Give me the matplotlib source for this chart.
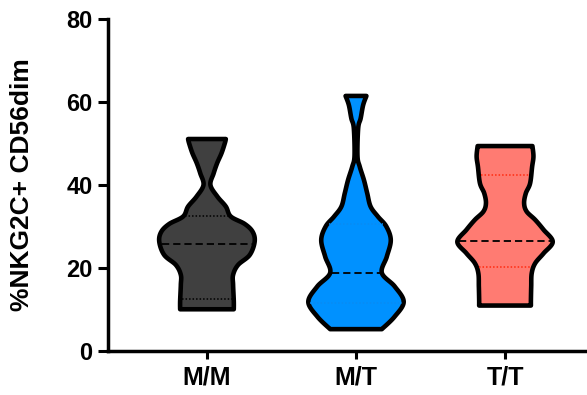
import numpy as np
import matplotlib.pyplot as plt
from matplotlib.patches import Polygon

plt.rcParams['font.family'] = ['Liberation Sans', 'DejaVu Sans']
plt.rcParams['font.weight'] = 'bold'

groups = ['M/M', 'M/T', 'T/T']
fills = ['#404040', '#0091ff', '#ff7b72']
quart_cols = ['#000000', '#0a8bf2', '#ff2a10']

# violin outlines: value levels (bottom -> top) and relative widths
mm_y = [10, 12, 15.9, 18.3, 20.7, 23.1, 26.3, 28.7, 30.6, 32.4, 34.8, 37.2, 40, 42.8, 45.3, 47.7, 50.1, 51.1]
mm_w = [27, 27, 26.3, 26.3, 31.3, 43, 48, 46, 38, 24, 19, 10.5, 3.5, 6.7, 10.3, 14.7, 18, 19]

mt_y = [5.2, 8.2, 11.8, 15.5, 18.8, 22.7, 26.7, 30, 32.4, 34.8, 38, 41.2, 44.4, 47, 53.7, 56.1, 59.3, 61.5]
mt_w = [26, 38.8, 48, 39, 26, 31, 35, 30.5, 22, 14.7, 11.3, 8, 3.8, 1.5, 2.2, 4.7, 7.2, 10.5]

tt_y = [10.9, 12.2, 15.5, 18.7, 21.1, 23.5, 26.3, 29.2, 31.6, 33.6, 35.6, 38, 40.4, 44.4, 46.9, 49.4]
tt_w = [25.5, 25.5, 25.8, 26.3, 29.7, 38, 47, 38, 29.7, 21.3, 18.8, 20.5, 24.7, 26.7, 28, 27]

medians = [25.7, 18.8, 26.5]
q1 = [12.5, 11.5, 20.1]
q3 = [32.4, 30.5, 42.4]

profiles = [(mm_y, mm_w), (mt_y, mt_w), (tt_y, tt_w)]


def smooth(y, w, n=24):
    # catmull-rom through the read points, done in roughly pixel space
    pts = np.column_stack([w, np.asarray(y) * 4.14])
    p = np.vstack([pts[0], pts, pts[-1]])
    t = np.linspace(0, 1, n, endpoint=False)[:, None]
    out = []
    for i in range(1, len(p) - 2):
        p0, p1, p2, p3 = p[i - 1], p[i], p[i + 1], p[i + 2]
        seg = 0.5 * (2 * p1 + (-p0 + p2) * t
                     + (2 * p0 - 5 * p1 + 4 * p2 - p3) * t ** 2
                     + (-p0 + 3 * p1 - 3 * p2 + p3) * t ** 3)
        out.append(seg)
    out.append(pts[-1:])
    c = np.vstack(out)
    return c[:, 1] / 4.14, c[:, 0]


fig = plt.figure(figsize=(5.87, 3.95), dpi=100)
ax = fig.add_axes([108 / 587, 44.3 / 395, 479 / 587, 331.4 / 395])

max_half = 0.32
for i, (yy, ww) in enumerate(profiles):
    ys, ws = smooth(yy, ww)
    half = ws / max(ww) * max_half
    xs_r = i + half
    xs_l = i - half
    verts = np.vstack([np.column_stack([xs_r, ys]),
                       np.column_stack([xs_l[::-1], ys[::-1]])])
    ax.add_patch(Polygon(verts, closed=True, facecolor=fills[i], edgecolor='black',
                         linewidth=3.3, joinstyle='round', zorder=2))
    order = np.argsort(ys)
    for v, style, col, lw in [(medians[i], (0, (4, 2.2)), 'black', 1.3),
                              (q1[i], (0, (1, 1.3)), quart_cols[i], 1.1),
                              (q3[i], (0, (1, 1.3)), quart_cols[i], 1.1)]:
        h = np.interp(v, ys[order], half[order]) - 0.013
        ax.plot([i - h, i + h], [v, v], color=col, linestyle=style, linewidth=lw, zorder=3)

ax.set_xlim(-0.664, 2.55)
ax.set_ylim(0, 80)
ax.set_yticks([0, 20, 40, 60, 80])
ax.set_xticks(range(len(groups)))
ax.set_xticklabels(groups)

for s in ['top', 'right']:
    ax.spines[s].set_visible(False)
for s in ['left', 'bottom']:
    ax.spines[s].set_linewidth(2.5)
ax.tick_params(axis='y', length=7, width=2.2, labelsize=17, pad=4)
ax.tick_params(axis='x', length=6, width=2.2, labelsize=18, pad=5)

ax.set_ylabel('%NKG2C+ CD56dim', fontsize=19, fontweight='bold')
ax.yaxis.set_label_coords(-0.155, 0.5)

fig.savefig('out.png', dpi=100)
